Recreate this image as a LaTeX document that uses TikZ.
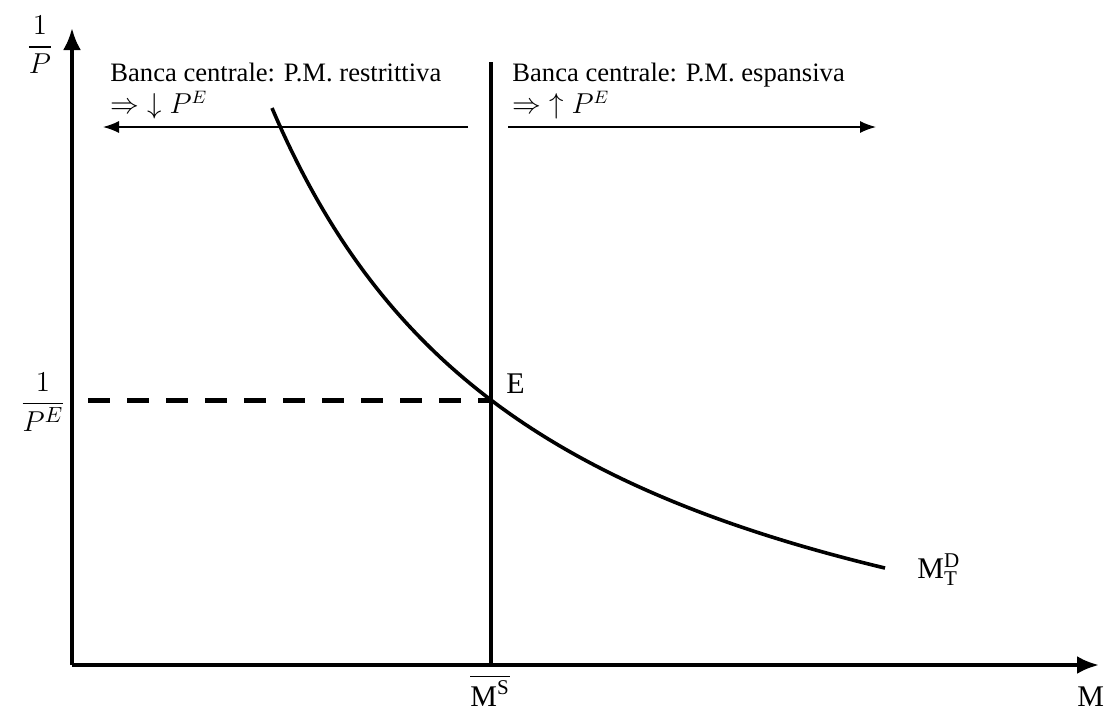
\documentclass[tikz,border=0pt]{standalone}
\usepackage{amsmath}
\usepackage{fontspec}
\setmainfont{Liberation Serif}
\usetikzlibrary{arrows.meta}

\begin{document}
\begin{tikzpicture}[x=0.5pt,y=-0.5pt,>=Latex,
  every node/.style={inner sep=0pt},
  axis/.style={line width=2pt,-{Latex[length=11pt,width=9pt]}},
  policy/.style={line width=0.7pt,-{Latex[length=8pt,width=6pt]}},
  lbl/.style={font=\fontsize{13.3}{16}\selectfont,align=left,anchor=north west},
  big/.style={font=\fontsize{15}{15}\selectfont}]
\useasboundingbox (0,0) rectangle (1104,713);
% axes
\coordinate (O) at (72,665);
\coordinate (ytop) at (72,28);
\coordinate (xend) at (1099,665);
\draw[axis] (O) -- (ytop);
\draw[axis] (O) -- (xend);
% money supply
\coordinate (ms) at (491,62);
\coordinate (msb) at (O -| ms);
\coordinate (E) at (491,400);
\coordinate (dashstart) at (88,400);
\draw[line width=2pt] (msb) -- (ms);
\draw[line width=2.5pt,dash pattern=on 11pt off 8.5pt] (dashstart) -- (E);
% money demand
\draw[line width=1.8pt] plot[domain=272:885,samples=120] (\x,{784.3-1949/((\x+16.2)/100)});
% policy arrows
\coordinate (la) at (468,127);
\coordinate (lb) at (103,127);
\coordinate (ra) at (508,127);
\coordinate (rb) at (876,127);
\draw[policy] (la) -- (lb);
\draw[policy] (ra) -- (rb);
\node[lbl] (restr) at (110,63) {Banca centrale: P.M. restrittiva\\$\Rightarrow\;\downarrow P^{E}$};
\node[lbl] (espan) at (512,63) {Banca centrale: P.M. espansiva\\$\Rightarrow\;\uparrow P^{E}$};
% labels
\node[big] (invp) at (40,45) {$\dfrac{1}{P}$};
\node[big] (invpe) at (43,402) {$\dfrac{1}{P^{E}}$};
\node[big,anchor=base west] (lblE) at (506,393) {E};
\node[big,anchor=base west] (lblMD) at (917,578) {M$^{\text{D}}_{\text{T}}$};
\node[big,anchor=base west] (lblM) at (1077,706) {M};
\node[big,anchor=base west] (lblMS) at (470,706) {$\overline{\text{M}^{\text{S}}}$};
\end{tikzpicture}
\end{document}
